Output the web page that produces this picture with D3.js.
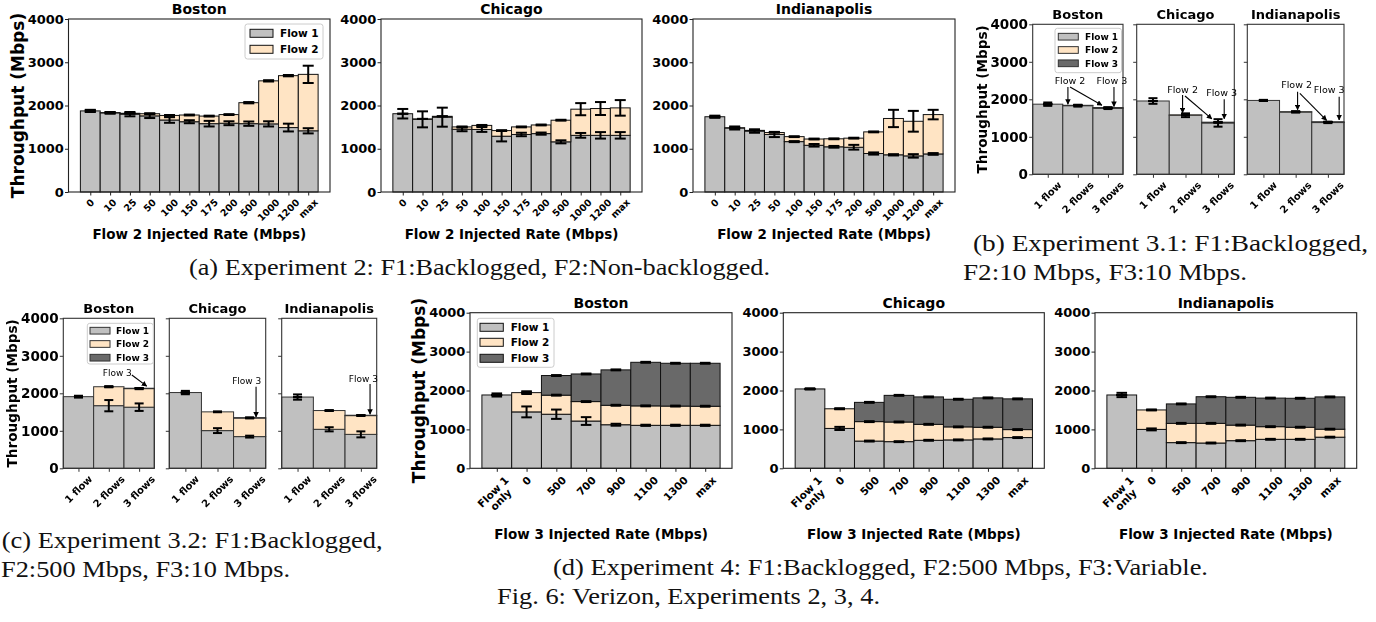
<!DOCTYPE html>
<html>
<head>
<meta charset="utf-8">
<script src="https://cdn.jsdelivr.net/npm/d3@7"></script>
<style>
  body { margin: 0; background: #fff; }
  svg { display: block; }
</style>
</head>
<body>
<svg id="fig" width="1376" height="622"></svg>
<script>
// ---------------- Data ----------------
const yTickValues = [0, 1000, 2000, 3000, 4000];
const yTickLabels = ["0", "1000", "2000", "3000", "4000"];
const flowNames = ["Flow 1", "Flow 2", "Flow 3"];
const cities = ["Boston", "Chicago", "Indianapolis"];

// Experiment 2: Flow 2 injected-rate sweep (Mbps)
const exp2Rates = ["0", "10", "25", "50", "100", "150", "175", "200", "500", "1000", "1200", "max"];
const exp2BostonFlow1    = [1875, 1830, 1800, 1760, 1665, 1625, 1580, 1590, 1580, 1575, 1490, 1415];
const exp2BostonFlow1Err = [25, 20, 50, 50, 65, 35, 65, 45, 50, 60, 90, 60];
const exp2BostonFlow2    = [0, 5, 20, 50, 105, 155, 175, 200, 485, 995, 1200, 1305];
const exp2BostonFlow2Err = [15, 10, 10, 10, 10, 10, 10, 10, 15, 15, 15, 200];
const exp2ChicagoFlow1    = [1810, 1680, 1730, 1450, 1445, 1290, 1330, 1350, 1160, 1310, 1310, 1310];
const exp2ChicagoFlow1Err = [110, 185, 220, 45, 55, 120, 40, 25, 35, 55, 75, 75];
const exp2ChicagoFlow2    = [0, 10, 20, 55, 95, 130, 175, 200, 500, 605, 620, 635];
const exp2ChicagoFlow2Err = [0, 0, 0, 10, 10, 10, 10, 10, 10, 140, 150, 180];
const exp2IndyFlow1    = [1740, 1480, 1410, 1330, 1165, 1080, 1045, 1035, 890, 860, 835, 880];
const exp2IndyFlow1Err = [25, 35, 40, 60, 12, 30, 20, 55, 25, 15, 40, 20];
const exp2IndyFlow2    = [0, 5, 15, 45, 115, 145, 185, 210, 500, 840, 800, 910];
const exp2IndyFlow2Err = [0, 0, 0, 0, 10, 10, 10, 10, 10, 200, 240, 110];

// Experiment 3: number of flows
const exp3Counts = ["1 flow", "2 flows", "3 flows"];
// 3.1: F2 = 10 Mbps, F3 = 10 Mbps
const exp31BostonFlow1 = [1870, 1830, 1760];
const exp31BostonFlow1Err = [45, 25, 20];
const exp31BostonFlow2 = [0, 10, 10];
const exp31BostonFlow2Err = [0, 5, 5];
const exp31BostonFlow3 = [0, 0, 10];
const exp31BostonFlow3Err = [0, 0, 5];
const exp31ChicagoFlow1 = [1955, 1575, 1370];
const exp31ChicagoFlow1Err = [75, 50, 100];
const exp31ChicagoFlow2 = [0, 10, 10];
const exp31ChicagoFlow2Err = [0, 5, 5];
const exp31ChicagoFlow3 = [0, 0, 10];
const exp31ChicagoFlow3Err = [0, 0, 5];
const exp31IndyFlow1 = [1970, 1660, 1380];
const exp31IndyFlow1Err = [15, 15, 15];
const exp31IndyFlow2 = [0, 10, 10];
const exp31IndyFlow2Err = [0, 5, 5];
const exp31IndyFlow3 = [0, 0, 10];
const exp31IndyFlow3Err = [0, 0, 5];
// 3.2: F2 = 500 Mbps, F3 = 10 Mbps
const exp32BostonFlow1 = [1910, 1670, 1630];
const exp32BostonFlow1Err = [25, 150, 100];
const exp32BostonFlow2 = [0, 505, 495];
const exp32BostonFlow2Err = [0, 15, 15];
const exp32BostonFlow3 = [0, 0, 10];
const exp32BostonFlow3Err = [0, 0, 5];
const exp32ChicagoFlow1 = [2020, 1005, 845];
const exp32ChicagoFlow1Err = [45, 65, 25];
const exp32ChicagoFlow2 = [0, 500, 495];
const exp32ChicagoFlow2Err = [0, 10, 10];
const exp32ChicagoFlow3 = [0, 0, 10];
const exp32ChicagoFlow3Err = [0, 0, 5];
const exp32IndyFlow1 = [1900, 1040, 905];
const exp32IndyFlow1Err = [70, 55, 80];
const exp32IndyFlow2 = [0, 500, 500];
const exp32IndyFlow2Err = [0, 10, 10];
const exp32IndyFlow3 = [0, 0, 10];
const exp32IndyFlow3Err = [0, 0, 5];

// Experiment 4: Flow 3 injected-rate sweep (Mbps)
const exp4Rates = ["Flow 1\nonly", "0", "500", "700", "900", "1100", "1300", "max"];
const exp4BostonFlow1    = [1885, 1450, 1390, 1215, 1120, 1105, 1105, 1105];
const exp4BostonFlow1Err = [40, 140, 120, 100, 25, 15, 15, 15];
const exp4BostonFlow2    = [0, 495, 490, 500, 500, 500, 495, 490];
const exp4BostonFlow2Err = [0, 35, 12, 12, 12, 12, 12, 12];
const exp4BostonFlow3    = [0, 0, 505, 710, 910, 1120, 1100, 1105];
const exp4BostonFlow3Err = [0, 0, 12, 12, 12, 12, 12, 12];
const exp4ChicagoFlow1    = [2040, 1025, 700, 685, 720, 730, 755, 790];
const exp4ChicagoFlow1Err = [15, 40, 12, 12, 12, 12, 12, 12];
const exp4ChicagoFlow2    = [0, 505, 500, 505, 410, 335, 300, 205];
const exp4ChicagoFlow2Err = [0, 12, 12, 12, 12, 12, 12, 12];
const exp4ChicagoFlow3    = [0, 0, 495, 685, 705, 710, 755, 790];
const exp4ChicagoFlow3Err = [0, 0, 12, 12, 12, 12, 12, 12];
const exp4IndyFlow1    = [1885, 1000, 660, 650, 710, 745, 745, 800];
const exp4IndyFlow1Err = [55, 25, 12, 12, 12, 12, 12, 12];
const exp4IndyFlow2    = [0, 500, 495, 505, 400, 325, 310, 205];
const exp4IndyFlow2Err = [0, 12, 12, 12, 12, 12, 12, 12];
const exp4IndyFlow3    = [0, 0, 500, 685, 715, 735, 745, 830];
const exp4IndyFlow3Err = [0, 0, 12, 12, 12, 12, 12, 12];

// Arrow annotations (bar index, throughput)
const exp31BostonNotes = [
  { label: "Flow 2", tx: 0.74, ty: 2490, arrows: [[0.67, 2330, 0.67, 1870], [0.74, 2330, 1.8, 1840]] },
  { label: "Flow 3", tx: 2.13, ty: 2490, arrows: [[2.2, 2330, 2.2, 1810]] }
];
const exp31ChicagoNotes = [
  { label: "Flow 2", tx: 0.91, ty: 2267, arrows: [[0.91, 2115, 0.91, 1640], [0.985, 2088, 1.81, 1480]] },
  { label: "Flow 3", tx: 2.11, ty: 2176, arrows: [[2.19, 2000, 2.19, 1480]] }
];
const exp31IndyNotes = [
  { label: "Flow 2", tx: 1.03, ty: 2381, arrows: [[1.06, 2203, 1.06, 1720]] },
  { label: "", tx: 1.13, ty: 2381, arrows: [[1.13, 2160, 1.96, 1440]] },
  { label: "Flow 3", tx: 2.04, ty: 2248, arrows: [[2.35, 2069, 2.35, 1450]] }
];
const exp32BostonNotes = [
  { label: "Flow 3", tx: 1.28, ty: 2549, arrows: [[1.76, 2488, 2.25, 2190]] }
];
const exp32ChicagoNotes = [
  { label: "Flow 3", tx: 1.91, ty: 2328, arrows: [[2.2, 2176, 2.2, 1370]] }
];
const exp32IndyNotes = [
  { label: "Flow 3", tx: 2.08, ty: 2400, arrows: [[2.29, 2248, 2.29, 1440]] }
];

// ---------------- Drawing ----------------
const FONT = "'DejaVu Sans', Verdana, sans-serif";
const SERIF = "'Liberation Serif', 'Times New Roman', serif";
const COLORS = ["#c0c0c0", "#ffe4c4", "#696969"];

const svg = d3.select("#fig");
svg.append("rect").attr("width", 1376).attr("height", 622).attr("fill", "#fff");
const defs = svg.append("defs");
defs.append("marker").attr("id", "ah").attr("viewBox", "0 0 10 10")
  .attr("refX", 9).attr("refY", 5).attr("markerWidth", 5.5).attr("markerHeight", 5.5)
  .attr("orient", "auto").attr("markerUnits", "userSpaceOnUse")
  .append("path").attr("d", "M0,0L10,5L0,10z").attr("fill", "#000");
defs.append("filter").attr("id", "soft").attr("x", "-5%").attr("y", "-5%").attr("width", "110%").attr("height", "110%")
  .append("feGaussianBlur").attr("stdDeviation", 0.45);

function rotLabel(g, cx, yTop, lines, size) {
  const t = g.append("text").attr("font-family", FONT).attr("font-weight", "bold")
    .attr("font-size", size).attr("text-anchor", "middle").attr("fill", "#000");
  lines.forEach((ln, j) => t.append("tspan").attr("x", 0).attr("y", j * size * 1.05).text(ln));
  const b = t.node().getBBox();
  const half = (b.width + b.height) * Math.SQRT1_2 / 2;
  t.attr("transform",
    `translate(${cx},${yTop + half}) rotate(-45) translate(${-(b.x + b.width / 2)},${-(b.y + b.height / 2)})`);
}

function drawPanel(p) {
  const g = svg.append("g");
  if (p.soft) g.attr("filter", "url(#soft)");
  const n = p.cats.length;
  const x = d3.scaleLinear().domain([-0.5 - p.margin, n - 0.5 + p.margin]).range([p.left, p.right]);
  const y = d3.scaleLinear().domain([0, 4000]).range([p.bottom, p.top]);
  const keys = p.layers.map((_, k) => k);
  const rows = d3.range(n).map(i => keys.map(k => p.layers[k][i]));
  const series = d3.stack().keys(keys).value((row, k) => row[k])(rows);
  const bw = x(1) - x(0);

  series.forEach((s, k) => {
    g.append("g").selectAll("rect").data(s).join("rect")
      .attr("x", (d, i) => x(i - 0.5)).attr("width", bw)
      .attr("y", d => y(d[1])).attr("height", d => Math.max(0, y(d[0]) - y(d[1])))
      .attr("fill", COLORS[k]).attr("stroke", p.edge).attr("stroke-width", 1);
  });

  const eg = g.append("g").attr("stroke", "#000").attr("stroke-width", p.errW);
  series.forEach((s, k) => s.forEach((d, i) => {
    const e = p.errs[k][i], cx = x(i), top = d[1];
    eg.append("line").attr("x1", cx).attr("x2", cx).attr("y1", y(top - e)).attr("y2", y(top + e));
    [top - e, top + e].forEach(v => eg.append("line")
      .attr("x1", cx - p.cap).attr("x2", cx + p.cap).attr("y1", y(v)).attr("y2", y(v)));
  }));

  g.append("rect").attr("x", p.left).attr("y", p.top)
    .attr("width", p.right - p.left).attr("height", p.bottom - p.top)
    .attr("fill", "none").attr("stroke", p.spine).attr("stroke-width", 1.1);

  const ya = d3.axisLeft(y).tickValues(yTickValues).tickSize(3.5).tickPadding(1.2).tickSizeOuter(0)
    .tickFormat((d, i) => p.yLabels ? yTickLabels[i] : "");
  const yg = g.append("g").attr("transform", `translate(${p.left},0)`).call(ya);
  yg.select(".domain").remove();
  yg.selectAll("line").attr("stroke", p.spine);
  yg.selectAll("text").attr("font-family", FONT).attr("font-weight", "bold")
    .attr("font-size", p.ytSize).attr("fill", "#000");

  const xa = d3.axisBottom(x).tickValues(d3.range(n)).tickSize(3.5).tickFormat("");
  const xg = g.append("g").attr("transform", `translate(0,${p.bottom})`).call(xa);
  xg.select(".domain").remove();
  xg.selectAll("line").attr("stroke", p.spine);
  p.cats.forEach((c, i) => rotLabel(g, x(i), p.bottom + 3.5 + p.xtPad, c.split("\n"), p.xtSize));

  g.append("text").attr("x", (p.left + p.right) / 2).attr("y", p.titleY)
    .attr("text-anchor", "middle").attr("font-family", FONT).attr("font-weight", "bold")
    .attr("font-size", p.titleSize).text(p.title);

  if (p.xlabel) {
    g.append("text").attr("x", (p.left + p.right) / 2).attr("y", p.xlabelY)
      .attr("text-anchor", "middle").attr("font-family", FONT).attr("font-weight", "bold")
      .attr("font-size", 13.5).text(p.xlabel);
  }
  if (p.ylabel) {
    g.append("text").attr("transform", `translate(${p.ylabel.x},${(p.top + p.bottom) / 2}) rotate(-90)`)
      .attr("text-anchor", "middle").attr("font-family", FONT).attr("font-weight", "bold")
      .attr("font-size", p.ylabel.size).text("Throughput (Mbps)");
  }
  if (p.legend) {
    const L = p.legend;
    g.append("rect").attr("x", L.x0).attr("y", L.y0).attr("width", L.x1 - L.x0).attr("height", L.y1 - L.y0)
      .attr("rx", 2.5).attr("fill", "#fff").attr("fill-opacity", 0.85).attr("stroke", "#cccccc");
    L.rows.forEach((ry, k) => {
      g.append("rect").attr("x", L.px).attr("y", ry - L.ph / 2).attr("width", L.pw).attr("height", L.ph)
        .attr("fill", COLORS[k]).attr("stroke", p.edge).attr("stroke-width", 1);
      g.append("text").attr("x", L.tx).attr("y", ry).attr("dy", "0.36em")
        .attr("font-family", FONT).attr("font-weight", "bold").attr("font-size", L.size).text(flowNames[k]);
    });
  }
  if (p.notes) {
    p.notes.forEach(nt => {
      if (nt.label) {
        g.append("text").attr("x", x(nt.tx)).attr("y", y(nt.ty)).attr("dy", "0.36em")
          .attr("text-anchor", "middle").attr("font-family", FONT).attr("font-size", p.noteSize).text(nt.label);
      }
      nt.arrows.forEach(a => g.append("line")
        .attr("x1", x(a[0])).attr("y1", y(a[1])).attr("x2", x(a[2])).attr("y2", y(a[3]))
        .attr("stroke", "#000").attr("stroke-width", 1.1).attr("marker-end", "url(#ah)"));
    });
  }
  return g;
}

// (a) Experiment 2
const exp2Layers = [
  [[exp2BostonFlow1, exp2BostonFlow2], [exp2BostonFlow1Err, exp2BostonFlow2Err]],
  [[exp2ChicagoFlow1, exp2ChicagoFlow2], [exp2ChicagoFlow1Err, exp2ChicagoFlow2Err]],
  [[exp2IndyFlow1, exp2IndyFlow2], [exp2IndyFlow1Err, exp2IndyFlow2Err]]
];
const aBoxes = [[68.5, 330], [381, 642], [693, 955]];
exp2Layers.forEach((L, c) => drawPanel({
  left: aBoxes[c][0], right: aBoxes[c][1], top: 19, bottom: 192, margin: 0.6,
  cats: exp2Rates, layers: L[0], errs: L[1], edge: "#111", spine: "#222",
  errW: 2, cap: 5.5, ytSize: 13, yLabels: true, xtSize: 9.5, xtPad: 1,
  title: cities[c], titleY: 13.5, titleSize: 14,
  xlabel: "Flow 2 Injected Rate (Mbps)", xlabelY: 238.5,
  ylabel: c === 0 ? { x: 24, size: 17 } : null,
  legend: c === 0 ? { x0: 245, y0: 24, x1: 323, y1: 59, px: 250, pw: 23, ph: 8, tx: 280, size: 10.5, rows: [33.3, 49.3] } : null
}));

// (b) Experiment 3.1
const exp31Layers = [
  [[exp31BostonFlow1, exp31BostonFlow2, exp31BostonFlow3], [exp31BostonFlow1Err, exp31BostonFlow2Err, exp31BostonFlow3Err], exp31BostonNotes],
  [[exp31ChicagoFlow1, exp31ChicagoFlow2, exp31ChicagoFlow3], [exp31ChicagoFlow1Err, exp31ChicagoFlow2Err, exp31ChicagoFlow3Err], exp31ChicagoNotes],
  [[exp31IndyFlow1, exp31IndyFlow2, exp31IndyFlow3], [exp31IndyFlow1Err, exp31IndyFlow2Err, exp31IndyFlow3Err], exp31IndyNotes]
];
const bBoxes = [[1032.7, 1123], [1136.7, 1234.3], [1247.3, 1344]];
exp31Layers.forEach((L, c) => drawPanel({
  left: bBoxes[c][0], right: bBoxes[c][1], top: 24.3, bottom: 174.3, margin: 0, soft: true,
  cats: exp3Counts, layers: L[0], errs: L[1], notes: L[2], noteSize: 9.5, edge: "#333", spine: "#333",
  errW: 2, cap: 4.5, ytSize: 13.5, yLabels: c === 0, xtSize: 10, xtPad: 1.5,
  title: cities[c], titleY: 19.3, titleSize: 13,
  ylabel: c === 0 ? { x: 986.7, size: 13.6 } : null,
  legend: c === 0 ? { x0: 1055, y0: 28.3, x1: 1121.5, y1: 72.7, px: 1058.3, pw: 20, ph: 6.7, tx: 1085, size: 9, rows: [36.7, 50, 63.3] } : null
}));

// (c) Experiment 3.2
const exp32Layers = [
  [[exp32BostonFlow1, exp32BostonFlow2, exp32BostonFlow3], [exp32BostonFlow1Err, exp32BostonFlow2Err, exp32BostonFlow3Err], exp32BostonNotes],
  [[exp32ChicagoFlow1, exp32ChicagoFlow2, exp32ChicagoFlow3], [exp32ChicagoFlow1Err, exp32ChicagoFlow2Err, exp32ChicagoFlow3Err], exp32ChicagoNotes],
  [[exp32IndyFlow1, exp32IndyFlow2, exp32IndyFlow3], [exp32IndyFlow1Err, exp32IndyFlow2Err, exp32IndyFlow3Err], exp32IndyNotes]
];
const cBoxes = [[63.3, 154.3], [169.3, 265.7], [281.7, 376.7]];
exp32Layers.forEach((L, c) => drawPanel({
  left: cBoxes[c][0], right: cBoxes[c][1], top: 318.3, bottom: 468.3, margin: 0, soft: true,
  cats: exp3Counts, layers: L[0], errs: L[1], notes: L[2], noteSize: 9, edge: "#333", spine: "#333",
  errW: 2, cap: 4.5, ytSize: 13.5, yLabels: c === 0, xtSize: 10, xtPad: 1.5,
  title: cities[c], titleY: 313, titleSize: 13,
  ylabel: c === 0 ? { x: 16.7, size: 13.6 } : null,
  legend: c === 0 ? { x0: 87.3, y0: 323.3, x1: 153.3, y1: 364, px: 90, pw: 20, ph: 6.7, tx: 116, size: 9, rows: [330.7, 344, 357.7] } : null
}));

// (d) Experiment 4
const exp4Layers = [
  [[exp4BostonFlow1, exp4BostonFlow2, exp4BostonFlow3], [exp4BostonFlow1Err, exp4BostonFlow2Err, exp4BostonFlow3Err]],
  [[exp4ChicagoFlow1, exp4ChicagoFlow2, exp4ChicagoFlow3], [exp4ChicagoFlow1Err, exp4ChicagoFlow2Err, exp4ChicagoFlow3Err]],
  [[exp4IndyFlow1, exp4IndyFlow2, exp4IndyFlow3], [exp4IndyFlow1Err, exp4IndyFlow2Err, exp4IndyFlow3Err]]
];
const dBoxes = [[470, 732], [783.3, 1044.3], [1095, 1356.7]];
exp4Layers.forEach((L, c) => drawPanel({
  left: dBoxes[c][0], right: dBoxes[c][1], top: 312.7, bottom: 468.3, margin: 0.4,
  cats: exp4Rates, layers: L[0], errs: L[1], edge: "#111", spine: "#222",
  errW: 2, cap: 5.3, ytSize: 13, yLabels: true, xtSize: 10.5, xtPad: 2,
  title: cities[c], titleY: 308, titleSize: 14,
  xlabel: "Flow 3 Injected Rate (Mbps)", xlabelY: 538.5,
  ylabel: c === 0 ? { x: 425, size: 17 } : null,
  legend: c === 0 ? { x0: 477.3, y0: 318.3, x1: 554, y1: 367.3, px: 480, pw: 23.3, ph: 8, tx: 510.7, size: 10.5, rows: [327.3, 342.3, 358.3] } : null
}));

// Captions
function caption(text, x, y, width) {
  svg.append("text").attr("x", x).attr("y", y).attr("font-family", SERIF).attr("font-size", 24)
    .attr("textLength", width).attr("lengthAdjust", "spacingAndGlyphs").attr("fill", "#111").text(text);
}
caption("(a) Experiment 2: F1:Backlogged, F2:Non-backlogged.", 189, 275, 581);
caption("(b) Experiment 3.1: F1:Backlogged,", 973, 250.5, 395);
caption("F2:10 Mbps, F3:10 Mbps.", 963, 280, 284);
caption("(c) Experiment 3.2: F1:Backlogged,", 1.7, 548, 381);
caption("F2:500 Mbps, F3:10 Mbps.", 1, 576.5, 289);
caption("(d) Experiment 4: F1:Backlogged, F2:500 Mbps, F3:Variable.", 553, 575, 655);
caption("Fig. 6: Verizon, Experiments 2, 3, 4.", 497, 604, 383);
</script>
</body>
</html>
